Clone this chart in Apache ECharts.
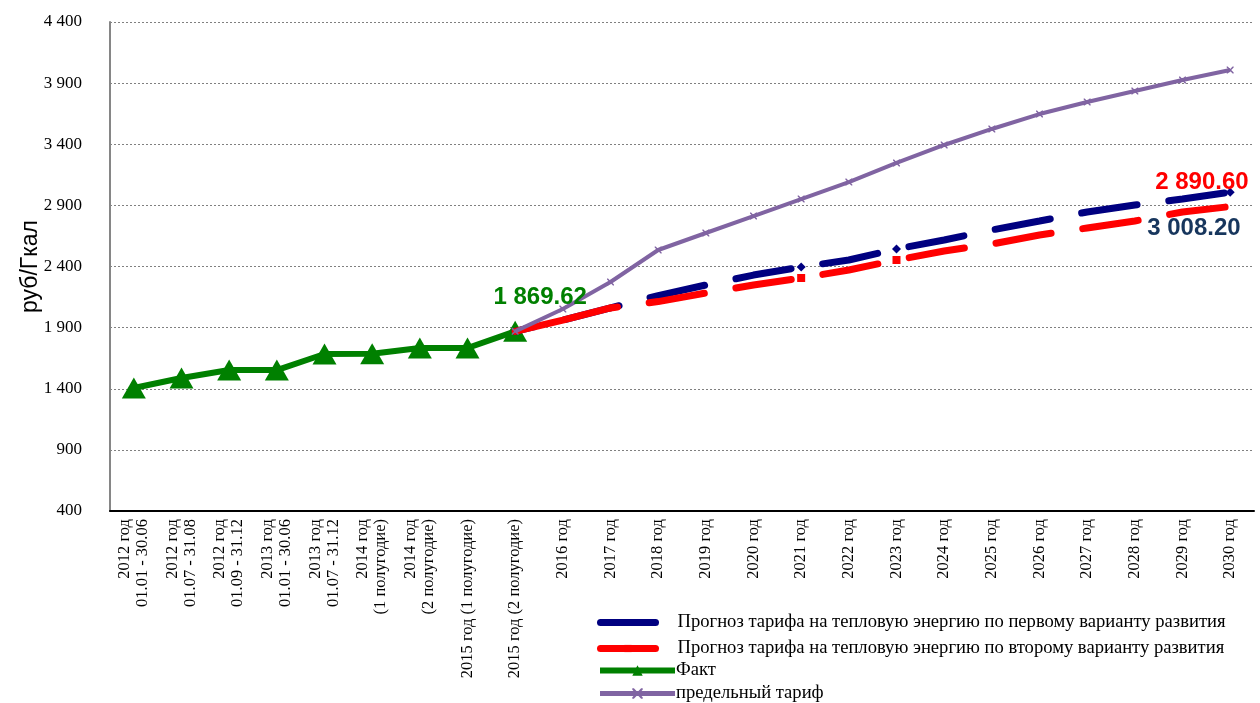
<!DOCTYPE html>
<html>
<head>
<meta charset="utf-8">
<script src="https://cdn.jsdelivr.net/npm/echarts@6/dist/echarts.min.js"></script>
<style>
  html, body { margin: 0; padding: 0; background: #fff; }
  #main { width: 1260px; height: 703px; }
</style>
</head>
<body>
<div id="main"></div>
<script>
let categories = [
    '2012 год\n01.01 - 30.06', '2012 год\n01.07 - 31.08', '2012 год\n01.09 - 31.12',
    '2013 год\n01.01 - 30.06', '2013 год\n01.07 - 31.12',
    '2014 год\n(1 полугодие)', '2014 год\n(2 полугодие)',
    '2015 год (1 полугодие)', '2015 год (2 полугодие)',
    '2016 год', '2017 год', '2018 год', '2019 год', '2020 год', '2021 год', '2022 год',
    '2023 год', '2024 год', '2025 год', '2026 год', '2027 год', '2028 год', '2029 год', '2030 год'
]

let seriesNames = [
    'Прогноз тарифа на тепловую энергию по первому варианту развития',
    'Прогноз тарифа на тепловую энергию по второму варианту развития',
    'Факт',
    'предельный тариф'
]

// факт: 2012 - 2015 (2 полугодие)
let fact = [1406, 1488, 1553, 1553, 1684, 1686, 1733, 1733, 1869.62]
// предельный тариф: 2015 (2 полугодие) - 2030
let limit = [1869.62, 2052, 2273, 2535, 2674, 2813, 2952, 3091, 3247, 3394, 3525, 3647, 3746, 3836, 3926, 4007]
// первый вариант: 2015 (2 полугодие) - 2030
let variant1 = [1869.62, 1962, 2061, 2162, 2249, 2330, 2396, 2453, 2543, 2617, 2699, 2772, 2846, 2903, 2952, 3008.2]
// второй вариант: 2015 (2 полугодие) - 2030
let variant2 = [1869.62, 1962, 2061, 2113, 2183, 2249, 2306, 2371, 2453, 2527, 2584, 2658, 2715, 2772, 2846, 2890.6]

let yTicks = [400, 900, 1400, 1900, 2400, 2900, 3400, 3900, 4400]

function pad(arr, start) {
    let out = []
    for (let i = 0; i < categories.length; i++) {
        let j = i - start
        out.push(j >= 0 && j < arr.length ? arr[j] : null)
    }
    return out
}

function fmt(v) {
    return String(v).replace(/\B(?=(\d{3})+(?!\d))/g, ' ')
}
function fmt2(v) {
    let s = Number(v).toFixed(2).split('.')
    return fmt(s[0]) + '.' + s[1]
}

let factData = pad(fact, 0)
let limitData = pad(limit, 8)
let v1Data = pad(variant1, 8)
let v2Data = pad(variant2, 8)
let v2Solid = v2Data.map((v, i) => (i <= 10 ? v : null))
let v2Dash = v2Data.map((v, i) => (i >= 10 ? v : null))

let serif = '"Liberation Serif", "Times New Roman", serif'
let sans = '"Liberation Sans", Arial, sans-serif'

let crossPath = 'path://M0,0L3,0L10,7L17,0L20,0L20,3L13,10L20,17L20,20L17,20L10,13L3,20L0,20L0,17L7,10L0,3Z'

// точки штрих-пунктира (2021, 2023, 2030)
let v1Dots = [14, 16, 23]
let v2Dots = [14, 16]

var myChart = echarts.init(document.getElementById('main'))

let dashStyle = [56, 32]

let option = {
    animation: false,
    grid: { left: 110, right: 6, top: 22, bottom: 192 },
    legend: [
        {
            orient: 'vertical',
            left: 597,
            top: 613,
            padding: 0,
            itemWidth: 55,
            itemHeight: 9,
            itemGap: 7,
            textStyle: { fontFamily: serif, fontSize: 18.6, lineHeight: 18, color: '#000', padding: [0, 0, 0, 17] },
            data: [
                { name: seriesNames[0], lineStyle: { type: 'solid', width: 7, cap: 'round', color: '#000080' } },
                { name: seriesNames[1], lineStyle: { type: 'solid', width: 7, cap: 'round', color: '#ff0000' } }
            ]
        },
        {
            orient: 'vertical',
            left: 597,
            bottom: 0,
            padding: 0,
            itemWidth: 75,
            itemHeight: 13,
            itemGap: 4,
            textStyle: { fontFamily: serif, fontSize: 18.6, lineHeight: 16, color: '#000', padding: [0, 0, 0, -4] },
            data: [
                { name: seriesNames[2], lineStyle: { width: 6, color: '#008000' } },
                { name: seriesNames[3], lineStyle: { width: 5, color: '#8064A2' } }
            ]
        }
    ],
    xAxis: {
        type: 'category',
        data: categories,
        boundaryGap: true,
        axisLine: { lineStyle: { color: '#000', width: 2 } },
        axisTick: { show: false },
        axisLabel: {
            rotate: 90,
            interval: 0,
            margin: 8,
            fontFamily: serif,
            fontSize: 16.5,
            lineHeight: 18,
            color: '#000'
        }
    },
    yAxis: {
        type: 'value',
        min: yTicks[0],
        max: yTicks[yTicks.length - 1],
        interval: 500,
        name: 'руб/Гкал',
        nameLocation: 'middle',
        nameGap: 68,
        nameMoveOverlap: false,
        nameTextStyle: { fontFamily: sans, fontSize: 23, color: '#000' },
        axisLine: { show: true, lineStyle: { color: '#868686', width: 2 } },
        axisTick: { show: false },
        axisLabel: {
            margin: 28,
            fontFamily: serif,
            fontSize: 17,
            color: '#000',
            formatter: v => fmt(v)
        },
        splitLine: { show: true, lineStyle: { color: '#808080', width: 1, type: [2, 2] } }
    },
    series: [
        {
            name: seriesNames[2],
            type: 'line',
            data: factData,
            symbol: 'triangle',
            symbolSize: [24, 21],
            color: '#008000',
            lineStyle: { color: '#008000', width: 6 },
            itemStyle: { color: '#008000' },
            z: 2
        },
        {
            name: seriesNames[0],
            type: 'line',
            data: v1Data,
            symbol: 'diamond',
            symbolSize: (v, p) => (v1Dots.includes(p.dataIndex) ? 9 : 0),
            color: '#000080',
            itemStyle: { color: '#000080' },
            lineStyle: { color: '#000080', width: 7, type: dashStyle, dashOffset: 37, cap: 'round' },
            endLabel: {
                show: true,
                formatter: p => fmt2(p.value),
                offset: [-91, 36],
                fontFamily: sans,
                fontWeight: 'bold',
                fontSize: 24,
                color: '#17365D'
            },
            z: 3
        },
        {
            name: seriesNames[1],
            type: 'line',
            data: v2Solid,
            showSymbol: false,
            symbol: 'rect',
            color: '#ff0000',
            itemStyle: { color: '#ff0000' },
            lineStyle: { color: '#ff0000', width: 7, cap: 'round' },
            z: 4
        },
        {
            name: seriesNames[1],
            type: 'line',
            data: v2Dash,
            symbol: 'rect',
            symbolSize: (v, p) => (v2Dots.includes(p.dataIndex) ? 8 : 0),
            color: '#ff0000',
            itemStyle: { color: '#ff0000' },
            lineStyle: { color: '#ff0000', width: 7, type: dashStyle, dashOffset: 49, cap: 'round' },
            endLabel: {
                show: true,
                formatter: p => fmt2(p.value),
                offset: [-83, -24],
                fontFamily: sans,
                fontWeight: 'bold',
                fontSize: 24,
                color: '#ff0000'
            },
            z: 4
        },
        {
            name: seriesNames[3],
            type: 'line',
            data: limitData,
            symbol: crossPath,
            symbolSize: 7,
            color: '#8064A2',
            lineStyle: { color: '#8064A2', width: 4 },
            itemStyle: { color: '#8064A2' },
            z: 5
        },
        {
            // подпись последнего факта
            type: 'scatter',
            data: factData.map((v, i) => (i === 8 ? v : null)),
            symbolSize: 0,
            silent: true,
            itemStyle: { opacity: 1 },
            label: {
                show: true,
                position: 'top',
                offset: [25, -17],
                formatter: p => fmt2(p.value),
                fontFamily: sans,
                fontWeight: 'bold',
                fontSize: 24,
                color: '#008000'
            },
            z: 6
        }
    ]
}

myChart.setOption(option)
</script>
</body>
</html>
